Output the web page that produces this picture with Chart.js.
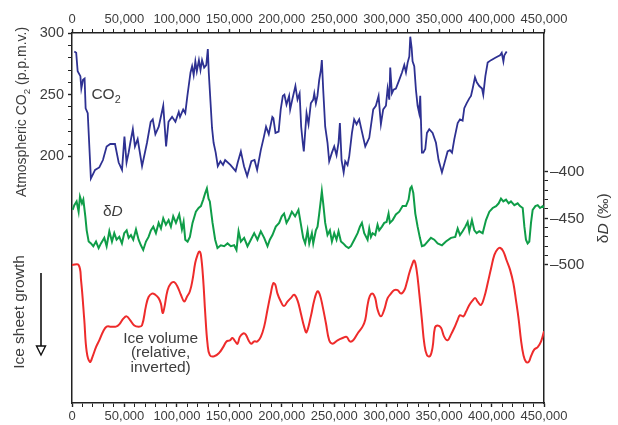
<!DOCTYPE html>
<html>
<head>
<meta charset="utf-8">
<script src="https://cdn.jsdelivr.net/npm/chart.js@4/dist/chart.umd.min.js"></script>
<style>
  html, body { margin: 0; padding: 0; background: #ffffff; }
  #wrap { width: 618px; height: 425px; }
</style>
</head>
<body>
<div id="wrap"><canvas id="c" width="618" height="425"></canvas></div>
<script>
// Age in years before present and atmospheric CO2 (p.p.m.v.)
const co2Age = [2200,4000,5400,8000,8900,10500,12000,13000,15000,18000,22000,26000,29500,33000,36500,41000,44500,47700,50000,52000,54000,55600,58000,60000,62600,66800,71500,75000,77000,79500,82700,87000,89700,92000,95400,98600,101800,103000,106000,108000,110000,113000,114500,116000,117600,119000,121000,122500,124000,126000,128000,129500,130400,133500,135000,137000,139000,141500,144000,146000,151000,156000,158000,161000,164000,167000,171000,174000,176500,180000,183000,185000,187600,191000,192000,194000,197000,199000,201000,202500,204500,207000,208000,210000,213000,215000,217000,218500,220000,221000,223600,225500,227700,230000,231000,232500,234000,235700,237300,238200,239500,241400,243600,245200,247800,250000,252200,254100,255400,257000,259000,260500,262700,264300,266900,269000,271300,273800,276400,279600,283400,287200,289700,292300,293600,294500,296700,299300,300900,302500,303400,305000,306600,308800,312000,314600,316800,318400,320000,321600,322500,323800,324700,326300,327900,329500,331000,332000,333600,334900,336800,338400,340600,343800,347000,349500,352700,355900,358100,360300,362300,364500,367700,369900,372400,374000,376200,378800,380400,382000,384200,385900,388300,390900,392100,394100,396300,399500,403600,405800,408100,409700,411300,412200,414400];
const co2Ppm = [285,284,269,265,255,262,263,239,235,182,189,191,197,208,210,210,195,189,216,195,203,211,222,208,214,192,211,228,230,218,224,241,208,228,232,228,236,232,238,235,249,268,273,266,277,269,278,270,278,272,274,287,268,223,211,203,192,196,193,197,193,188,195,204,192,184,196,197,189,205,216,224,218,232,231,219,220,238,249,250,242,249,238,246,257,246,251,224,211,204,235,226,243,246,251,243,249,262,270,278,254,224,211,196,203,208,201,211,227,197,187,196,193,200,219,230,226,230,220,208,215,238,241,249,235,226,238,241,255,246,272,251,254,255,262,268,274,268,276,281,297,288,277,273,254,241,235,249,203,203,206,219,222,219,211,197,187,197,204,205,203,214,227,230,229,239,243,247,249,255,264,260,257,255,250,265,276,278,280,281,282,284,277,282,285];

// Age and deuterium content of the ice, δD (per mil)
const dDAge = [600,2200,4400,6300,7600,9500,10800,12700,14000,15900,18100,20300,22900,25400,27600,30800,33000,35600,38100,40300,42500,45100,47600,49800,52100,54000,56200,58400,61000,63500,65700,67900,70500,73000,75200,77500,80000,82600,84800,87000,89500,92100,94300,96500,99100,102200,104800,106400,108000,110200,112400,114900,118100,120700,122900,125100,127000,128600,130200,131400,134000,136500,138700,141900,145100,148300,151400,154600,156800,158800,161000,164100,167300,170500,173700,176800,180000,183200,186400,188600,191100,194300,197500,200000,202200,204500,207000,209600,212700,215900,218000,220400,222300,224600,226200,228700,230000,232500,234100,235700,237300,238200,239500,241400,243600,245900,247800,250000,252200,254100,256400,258600,261100,263700,265900,269100,272300,274500,276400,278600,281800,283400,285000,286600,289100,291300,292900,295500,297700,299900,301800,303100,305700,308800,312000,315200,318400,320900,322500,323800,325400,327300,329500,331700,333600,335900,339000,342200,345400,348600,352700,356500,361300,365400,367700,369900,372400,375000,377200,378800,381300,383600,385800,388300,391500,394700,397900,401100,404300,406800,409000,411200,413800,416300,418500,421700,424900,427100,429700,431300,432800,434400,436000,437600,439200,441800,444000,446200,448800,450000];
const dDValue = [-441,-436,-432,-443,-427,-434,-430,-448,-463,-475,-477,-480,-475,-482,-477,-471,-480,-464,-475,-466,-473,-470,-477,-466,-463,-471,-468,-473,-462,-473,-479,-484,-475,-470,-463,-459,-466,-455,-461,-450,-457,-452,-459,-448,-455,-446,-462,-454,-473,-475,-470,-455,-443,-439,-437,-430,-423,-418,-429,-432,-455,-473,-482,-479,-480,-477,-480,-479,-484,-464,-475,-471,-480,-473,-466,-473,-464,-471,-480,-473,-468,-459,-455,-448,-445,-455,-450,-443,-448,-441,-455,-471,-477,-463,-477,-466,-477,-463,-459,-445,-430,-421,-434,-455,-468,-463,-475,-466,-473,-464,-475,-477,-480,-482,-480,-473,-466,-459,-455,-466,-473,-461,-470,-466,-468,-457,-463,-459,-455,-454,-445,-455,-452,-446,-443,-437,-437,-430,-418,-416,-423,-445,-459,-471,-480,-479,-475,-471,-473,-477,-479,-475,-471,-470,-461,-468,-464,-459,-454,-464,-452,-463,-466,-464,-466,-452,-443,-439,-437,-434,-429,-432,-430,-434,-432,-436,-434,-437,-439,-459,-473,-477,-475,-455,-441,-437,-436,-439,-437,-439];

// Age and relative ice volume (0 = least ice, 1 = most ice; drawn inverted)
const iceAge = [0,6300,8600,11700,14000,17100,19700,22900,26000,29800,33000,37100,41900,45100,48900,52100,55200,59400,63500,66700,70500,73000,76200,79400,82600,84800,86400,87900,91100,94300,97500,100600,103800,107000,109500,112400,114900,117500,119700,121300,122900,125100,127000,129200,131400,135600,140300,144100,147300,150500,153000,155600,157800,160000,163200,165700,168300,170800,173700,176800,180000,183200,186400,189500,191800,193700,195900,199100,202200,205400,208600,211800,215000,218100,221300,223500,227700,230900,234100,236300,238900,242100,245200,248400,253200,258000,261800,264900,268100,272300,277000,279600,281800,284000,286600,289100,291300,294500,297700,300900,304100,307200,310400,313600,316800,319000,321600,324100,326300,328500,331100,333600,335900,338400,341300,343800,346000,348600,351800,354900,358100,361300,364500,367700,369900,373100,375600,378800,382000,384500,386700,389900,393100,396300,399500,402700,405800,408400,411200,414400,417600,420800,423300,425900,428100,430400,432900,435400,437600,440800,444000,447200,450000];
const iceRel = [0.149,0.149,0.28,0.63,0.91,1.0,0.95,0.87,0.81,0.73,0.69,0.69,0.69,0.67,0.62,0.60,0.63,0.68,0.69,0.68,0.51,0.43,0.40,0.41,0.44,0.49,0.57,0.53,0.37,0.31,0.30,0.34,0.41,0.47,0.43,0.38,0.28,0.13,0.06,0.03,0.06,0.28,0.57,0.84,0.94,0.95,0.92,0.87,0.82,0.81,0.79,0.82,0.84,0.78,0.75,0.76,0.81,0.84,0.82,0.82,0.78,0.69,0.54,0.40,0.31,0.32,0.40,0.47,0.51,0.47,0.44,0.41,0.46,0.57,0.69,0.74,0.60,0.46,0.38,0.41,0.51,0.66,0.81,0.84,0.81,0.79,0.78,0.82,0.81,0.75,0.69,0.63,0.50,0.42,0.40,0.44,0.54,0.60,0.54,0.44,0.40,0.37,0.37,0.40,0.37,0.31,0.22,0.15,0.11,0.19,0.40,0.63,0.84,0.94,0.95,0.87,0.70,0.68,0.70,0.78,0.81,0.76,0.70,0.63,0.59,0.60,0.56,0.50,0.46,0.44,0.47,0.50,0.43,0.31,0.18,0.06,0.01,0.00,0.03,0.11,0.19,0.31,0.46,0.63,0.81,0.94,1.00,1.00,0.95,0.89,0.87,0.82,0.73];

// Axis ticks
const ageTicks = [];
for (let a = 0; a <= 450000; a += 10000) ageTicks.push(a);
const co2Ticks = [200,210,220,230,240,250,260,270,280,290,300];
const dDTicks = [-400,-410,-420,-430,-440,-450,-460,-470,-480,-490,-500];

const FONT = '"Liberation Sans", Arial, Helvetica, sans-serif';
const TEXT = '#3d3d3d';
const AXIS = '#222222';

const pts = (xs, ys) => xs.map((x, i) => ({ x: x, y: ys[i] }));

function ageAxis(pos, h) {
  return {
    type: 'linear', position: pos, min: 0, max: 450000,
    afterBuildTicks: s => { s.ticks = ageTicks.map(v => ({ value: v })); },
    afterFit: s => { s.height = h; },
    ticks: {
      autoSkip: false, maxRotation: 0, minRotation: 0, padding: 2,
      color: TEXT, font: { family: FONT, size: 13 },
      callback: v => (v % 50000 === 0 ? v.toLocaleString('en-US') : '')
    },
    grid: { drawOnChartArea: false, tickLength: 4, tickColor: AXIS,
            tickWidth: c => (c.tick && c.tick.value % 50000 === 0 ? 1.4 : 1) },
    border: { color: AXIS, width: 1.5 }
  };
}

// Free text: captions, subscripts and axis titles
function drawRich(ctx, parts, x, y, size, align) {
  const segs = parts.map(p => {
    const s = p.sub ? size * 0.7 : size;
    const f = (p.it ? 'italic ' : '') + s + 'px ' + FONT;
    ctx.font = f;
    return { t: p.t, f: f, w: ctx.measureText(p.t).width, dy: p.sub ? size * 0.28 : 0 };
  });
  const total = segs.reduce((a, s) => a + s.w, 0);
  let cx = align === 'center' ? x - total / 2 : x;
  ctx.textAlign = 'left';
  ctx.textBaseline = 'alphabetic';
  segs.forEach(s => { ctx.font = s.f; ctx.fillText(s.t, cx, y + s.dy); cx += s.w; });
}

const labelsPlugin = {
  id: 'labels',
  afterDraw(chart) {
    const ctx = chart.ctx;
    const x = chart.scales.x;
    const yc = chart.scales.yCO2;
    const yd = chart.scales.yD;
    const yi = chart.scales.yIce;
    ctx.save();
    ctx.fillStyle = TEXT;

    // series captions
    drawRich(ctx, [{ t: 'CO' }, { t: '2', sub: true }], x.getPixelForValue(18500), yc.getPixelForValue(246.5), 15.5, 'left');
    drawRich(ctx, [{ t: 'δ' }, { t: 'D', it: true }], x.getPixelForValue(29500), yd.getPixelForValue(-448), 15.5, 'left');
    const ix = x.getPixelForValue(84500);
    drawRich(ctx, [{ t: 'Ice volume' }], ix, yi.getPixelForValue(0.83), 15.5, 'center');
    drawRich(ctx, [{ t: '(relative,' }], ix, yi.getPixelForValue(0.955), 15.5, 'center');
    drawRich(ctx, [{ t: 'inverted)' }], ix, yi.getPixelForValue(1.085), 15.5, 'center');

    // left axis titles
    ctx.save();
    ctx.translate(26, 112);
    ctx.rotate(-Math.PI / 2);
    drawRich(ctx, [{ t: 'Atmospheric CO' }, { t: '2', sub: true }, { t: ' (p.p.m.v.)' }], 0, 0, 14, 'center');
    ctx.restore();

    ctx.save();
    ctx.translate(24, 312);
    ctx.rotate(-Math.PI / 2);
    drawRich(ctx, [{ t: 'Ice sheet growth' }], 0, 0, 15.5, 'center');
    ctx.restore();

    // right axis title
    ctx.save();
    ctx.translate(608, yd.getPixelForValue(-450));
    ctx.rotate(-Math.PI / 2);
    drawRich(ctx, [{ t: 'δ' }, { t: 'D', it: true }, { t: ' (‰)' }], 0, 0, 15.5, 'center');
    ctx.restore();

    // ice growth arrow
    ctx.strokeStyle = '#111';
    ctx.lineWidth = 1.6;
    ctx.beginPath();
    ctx.moveTo(41, 273);
    ctx.lineTo(41, 346);
    ctx.stroke();
    ctx.fillStyle = '#ffffff';
    ctx.lineWidth = 1.4;
    ctx.beginPath();
    ctx.moveTo(36.5, 346);
    ctx.lineTo(45.5, 346);
    ctx.lineTo(41, 355);
    ctx.closePath();
    ctx.fill();
    ctx.stroke();
    ctx.restore();
  }
};

new Chart(document.getElementById('c'), {
  type: 'line',
  data: {
    datasets: [
      { label: 'CO2', data: pts(co2Age, co2Ppm), xAxisID: 'x', yAxisID: 'yCO2',
        borderColor: '#2e3192', borderWidth: 1.8, pointRadius: 0, tension: 0, fill: false },
      { label: 'δD', data: pts(dDAge, dDValue), xAxisID: 'x', yAxisID: 'yD',
        borderColor: '#0f9d48', borderWidth: 2, pointRadius: 0, tension: 0, fill: false },
      { label: 'Ice volume', data: pts(iceAge, iceRel), xAxisID: 'x', yAxisID: 'yIce',
        borderColor: '#ee2b2b', borderWidth: 2, pointRadius: 0, tension: 0.4, fill: false }
    ]
  },
  options: {
    responsive: false, animation: false, devicePixelRatio: 1,
    layout: { padding: 0 },
    plugins: { legend: { display: false }, tooltip: { enabled: false } },
    scales: {
      x: ageAxis('bottom', 22),
      xTop: ageAxis('top', 33),
      yCO2: {
        type: 'linear', position: 'left', min: 0, max: 300,
        afterBuildTicks: s => { s.ticks = co2Ticks.map(v => ({ value: v })); },
        afterFit: s => { s.width = 72; },
        ticks: { autoSkip: false, padding: 4, color: TEXT, font: { family: FONT, size: 14.5 },
                 callback: v => (v % 50 === 0 ? String(v) : '') },
        grid: { drawOnChartArea: false, tickLength: 4, tickColor: AXIS,
                tickWidth: c => (c.tick && c.tick.value % 50 === 0 ? 1.4 : 1) },
        border: { color: AXIS, width: 1.5 }
      },
      yD: {
        type: 'linear', position: 'right', min: -648, max: -251.5,
        afterBuildTicks: s => { s.ticks = dDTicks.map(v => ({ value: v })); },
        afterFit: s => { s.width = 74; },
        ticks: { autoSkip: false, padding: 2, color: TEXT, font: { family: FONT, size: 15.5 },
                 callback: v => (v % 50 === 0 ? '\u2013' + Math.abs(v) : '') },
        grid: { drawOnChartArea: false, tickLength: 4, tickColor: AXIS,
                tickWidth: c => (c.tick && c.tick.value % 50 === 0 ? 1.4 : 1) },
        border: { color: AXIS, width: 1.5 }
      },
      yIce: { type: 'linear', display: false, reverse: true, min: -1.886, max: 1.36 }
    }
  },
  plugins: [labelsPlugin]
});
</script>
</body>
</html>
